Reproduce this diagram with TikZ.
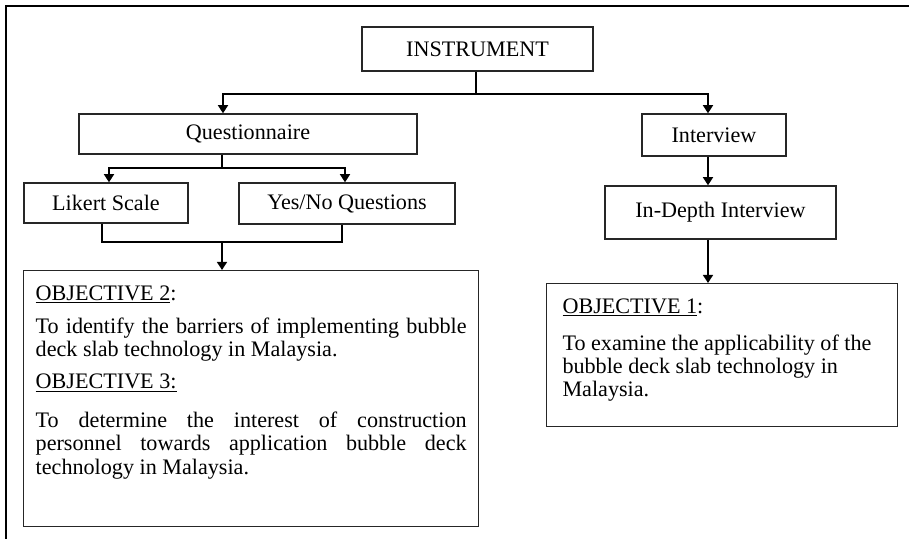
\documentclass[tikz,border=0pt]{standalone}
\usepackage{fontspec}
\setmainfont{Liberation Serif}
\usetikzlibrary{arrows.meta,positioning,calc}
\tikzset{sbox/.style={draw=black!85, line width=0.8pt, inner sep=0pt, align=center, font=\fontsize{12.6}{15}\selectfont}}
\tikzset{objbox/.style={draw=black!85, line width=0.8pt, anchor=north west, inner ysep=7.5pt, font=\fontsize{12.6}{13.1}\selectfont}}
\tikzset{link/.style={draw, line width=1.4pt}}
\tikzset{arr/.style={link, -{Triangle[width=5.6pt,length=4.6pt]}}}

\begin{document}
\begin{tikzpicture}[x=0.02cm, y=-0.02cm]
	\useasboundingbox (0,0) rectangle (909,539);
	\draw[line width=1.3pt] (909,6) -- (6,6) -- (6,539);

	\node[sbox, minimum width=4.62cm, minimum height=0.88cm] (instr) at (477.5,49) {INSTRUMENT};
	\node[sbox, minimum width=6.76cm, minimum height=0.80cm] (quest) at (248,134) {Questionnaire};
	\node[sbox, minimum width=2.88cm, minimum height=0.84cm] (interv) at (714,135) {Interview};
	\node[sbox, minimum width=3.28cm, minimum height=0.80cm] (likert) at (106,203) {Likert Scale};
	\node[sbox, minimum width=4.32cm, minimum height=0.82cm] (yesno) at (347,203.5) {Yes/No Questions};
	\node[sbox, minimum width=4.62cm, minimum height=1.06cm] (depth) at (720.5,212.5) {In-Depth Interview};

	\node[objbox, inner xsep=0.24cm] (obj2) at (23,270) {\parbox[t][130.7pt][t]{8.62cm}{%
		\strut\underline{OBJECTIVE 2}:\par
		\vspace{6pt}
		To identify the barriers of implementing bubble\linebreak deck slab technology in Malaysia.\par
		\vspace{5pt}
		\underline{OBJECTIVE 3:}\par
		\vspace{9pt}
		\fontsize{12.6}{13.3}\selectfont
		To determine the interest of construction\linebreak personnel towards application bubble deck\linebreak technology in Malaysia.}};

	\node[objbox, inner xsep=9pt] (obj1) at (546,283) {\parbox[t][66.1pt][t]{6.385cm}{\raggedright
		\strut\underline{OBJECTIVE 1}:\par
		\vspace{8pt}
		To examine the applicability of the\\
		bubble deck slab technology in\\
		Malaysia.}};

	% columns of the connectors
	\coordinate (topsplit) at (476,94);
	\coordinate (qcol) at (223,0);
	\coordinate (icol) at (708,0);
	\coordinate (qsplit) at (222,168);
	\coordinate (lcol) at (109,0);
	\coordinate (ycol) at (345,0);
	\coordinate (lout) at (102,0);
	\coordinate (yout) at (342,0);
	\coordinate (join) at (222,242);

	\draw[link] (instr.south -| topsplit) -- (topsplit);
	\draw[arr] (topsplit) -| (quest.north -| qcol);
	\draw[arr] (topsplit) -| (interv.north -| icol);

	\draw[link] (quest.south -| qsplit) -- (qsplit);
	\draw[arr] (qsplit) -| (likert.north -| lcol);
	\draw[arr] (qsplit) -| (yesno.north -| ycol);

	\draw[link] (likert.south -| lout) |- (join) -| (yesno.south -| yout);
	\draw[arr] (join) -- (obj2.north -| join);

	\draw[arr] (interv.south -| icol) -- (depth.north -| icol);
	\draw[arr] (depth.south -| icol) -- (obj1.north -| icol);
\end{tikzpicture}
\end{document}
